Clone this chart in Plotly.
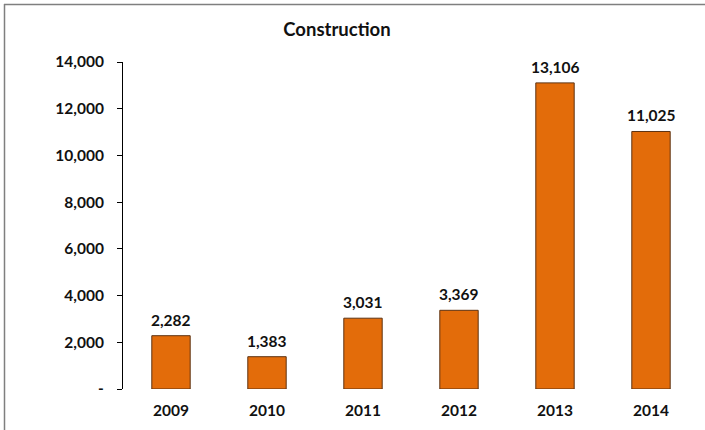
import plotly.graph_objects as go

years = ["2009", "2010", "2011", "2012", "2013", "2014"]
values = [2282, 1383, 3031, 3369, 13106, 11025]
y_tick_vals = [0, 2000, 4000, 6000, 8000, 10000, 12000, 14000]
y_tick_text = ["-", "2,000", "4,000", "6,000", "8,000", "10,000", "12,000", "14,000"]

W, H = 705, 430
ML, MR, MT, MB = 123, 6, 62, 41
PW, PH = W - ML - MR, H - MT - MB

FONT = "Lato"

fig = go.Figure()
fig.add_trace(go.Bar(
    x=years, y=values,
    marker=dict(color="#E36C0A", line=dict(color="#5E3312", width=1)),
    width=0.4,
    hoverinfo="skip",
))

for i, v in enumerate(values):
    fig.add_annotation(
        x=i, y=v, text=f"{v:,}", showarrow=False,
        yanchor="bottom", yshift=5,
        font=dict(family=FONT, size=15.5, color="#111111", weight="bold"),
    )

def px_x(p):
    return (p - ML) / PW

def px_y(p):
    return (H - MB - p) / PH

border = dict(color="#7f7f7f", width=1.5)
# top edge of chart frame
fig.add_shape(type="line", xref="paper", yref="paper",
              x0=px_x(4), x1=px_x(W), y0=px_y(4.5), y1=px_y(4.5),
              line=border, layer="below")
# left edge of chart frame
fig.add_shape(type="line", xref="paper", yref="paper",
              x0=px_x(4.5), x1=px_x(4.5), y0=px_y(H), y1=px_y(4),
              line=border, layer="below")

fig.update_layout(
    width=W, height=H,
    margin=dict(l=ML, r=MR, t=MT, b=MB),
    paper_bgcolor="white", plot_bgcolor="white",
    showlegend=False,
    title=dict(
        text="Construction", x=(337) / W, xanchor="center", xref="container",
        y=1 - 30 / H, yanchor="middle", yref="container",
        font=dict(family=FONT, size=18.5, color="#111111", weight="bold"),
    ),
    xaxis=dict(
        type="category", range=[-0.5, len(years) - 0.5],
        showline=False, showgrid=False, ticks="",
        tickfont=dict(family=FONT, size=15.5, color="#111111", weight="bold"),
        ticklabelstandoff=10, zeroline=False,
    ),
    yaxis=dict(
        range=[0, 14000], tickvals=y_tick_vals, ticktext=y_tick_text,
        showline=True, linecolor="black", linewidth=1,
        ticks="outside", ticklen=5, tickcolor="black", tickwidth=1,
        showgrid=False, zeroline=False,
        tickfont=dict(family=FONT, size=15.5, color="#111111", weight="bold"),
        ticklabelstandoff=10,
    ),
)

fig.write_html(
    "out.html",
    config={"displayModeBar": False},
    post_script=(
        "document.documentElement.style.margin='0';"
        "document.documentElement.style.padding='0';"
        "document.documentElement.style.overflow='hidden';"
        "document.body.style.margin='0';"
        "document.body.style.padding='0';"
        "document.body.style.overflow='hidden';"
    ),
)
